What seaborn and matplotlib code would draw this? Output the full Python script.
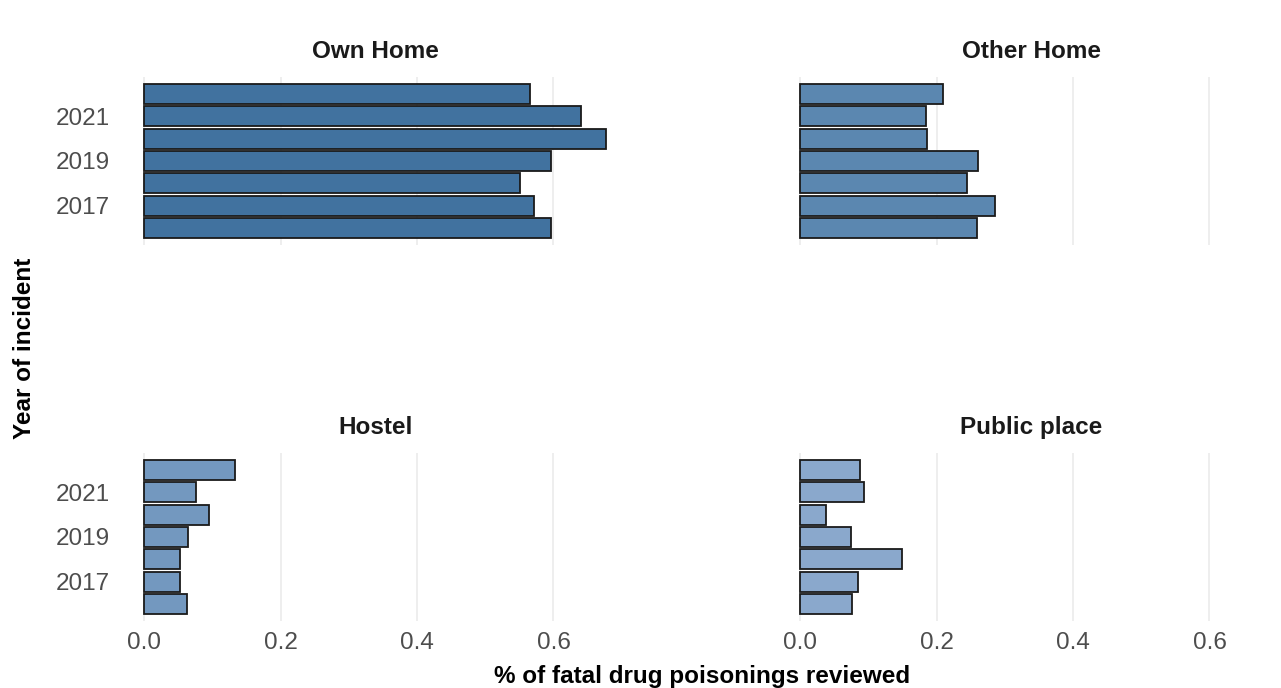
import pandas as pd
import matplotlib
matplotlib.use("Agg")
import matplotlib.pyplot as plt
import seaborn as sns

# --- Data ---
years = ["2022", "2021", "2020", "2019", "2018", "2017", "2016"]
own_home = [0.566, 0.641, 0.677, 0.596, 0.551, 0.571, 0.596]
other_home = [0.210, 0.184, 0.186, 0.261, 0.244, 0.286, 0.259]
hostel = [0.133, 0.076, 0.095, 0.065, 0.052, 0.052, 0.063]
public_place = [0.087, 0.094, 0.038, 0.074, 0.149, 0.085, 0.076]

locations = ["Own Home", "Other Home", "Hostel", "Public place"]
colors = ["#41729f", "#5b87b0", "#7398bf", "#8aa8cc"]
x_ticks = [0.0, 0.2, 0.4, 0.6]
y_shown = ["2021", "2019", "2017"]

df = pd.DataFrame({
    "year": years * 4,
    "location": [loc for loc in locations for _ in years],
    "share": own_home + other_home + hostel + public_place,
})

sns.set_style("white")
plt.rcParams["font.family"] = ["Liberation Sans", "DejaVu Sans"]

fig = plt.figure(figsize=(12.81, 6.88), dpi=100)

# panel positions (figure fractions)
positions = [
    [0.0945, 0.6439, 0.3966, 0.2442],
    [0.6066, 0.6439, 0.3966, 0.2442],
    [0.0945, 0.0974, 0.3966, 0.2442],
    [0.6066, 0.0974, 0.3966, 0.2442],
]

xmax = df["share"].max()
pad = 0.05 * xmax

for i, loc in enumerate(locations):
    ax = fig.add_axes(positions[i])
    sub = df[df["location"] == loc]
    sns.barplot(data=sub, x="share", y="year", order=years, color=colors[i],
                width=0.9, edgecolor="#1a1a1a", linewidth=1.3, saturation=1,
                ax=ax, zorder=2)
    ax.set_xlim(-pad, xmax + pad)
    ax.set_ylim(6.75, -0.75)
    ax.set_xticks(x_ticks)
    ax.grid(axis="x", color="#ebebeb", linewidth=1.2, zorder=0)
    ax.grid(axis="y", visible=False)
    for s in ax.spines.values():
        s.set_visible(False)
    ax.set_xlabel("")
    ax.set_ylabel("")
    ax.set_title(loc, fontsize=17.5, fontweight="bold", color="#1a1a1a", pad=14)
    ax.tick_params(length=0, labelsize=17.5, labelcolor="#4d4d4d", pad=8)
    if i in (0, 2):
        ax.set_yticks([years.index(y) for y in y_shown])
        ax.set_yticklabels(y_shown)
    else:
        ax.set_yticks([])
    if i in (2, 3):
        ax.set_xticklabels(["0.0", "0.2", "0.4", "0.6"])
    else:
        ax.set_xticklabels([])

fig.text(702 / 1281, 1 - 676 / 688, "% of fatal drug poisonings reviewed",
         ha="center", va="center", fontsize=17.5, fontweight="bold", color="#000000")
fig.text(25 / 1281, 1 - 348 / 688, "Year of incident", rotation=90,
         ha="center", va="center", fontsize=17.5, fontweight="bold", color="#000000")

fig.savefig("out.png", dpi=100)
